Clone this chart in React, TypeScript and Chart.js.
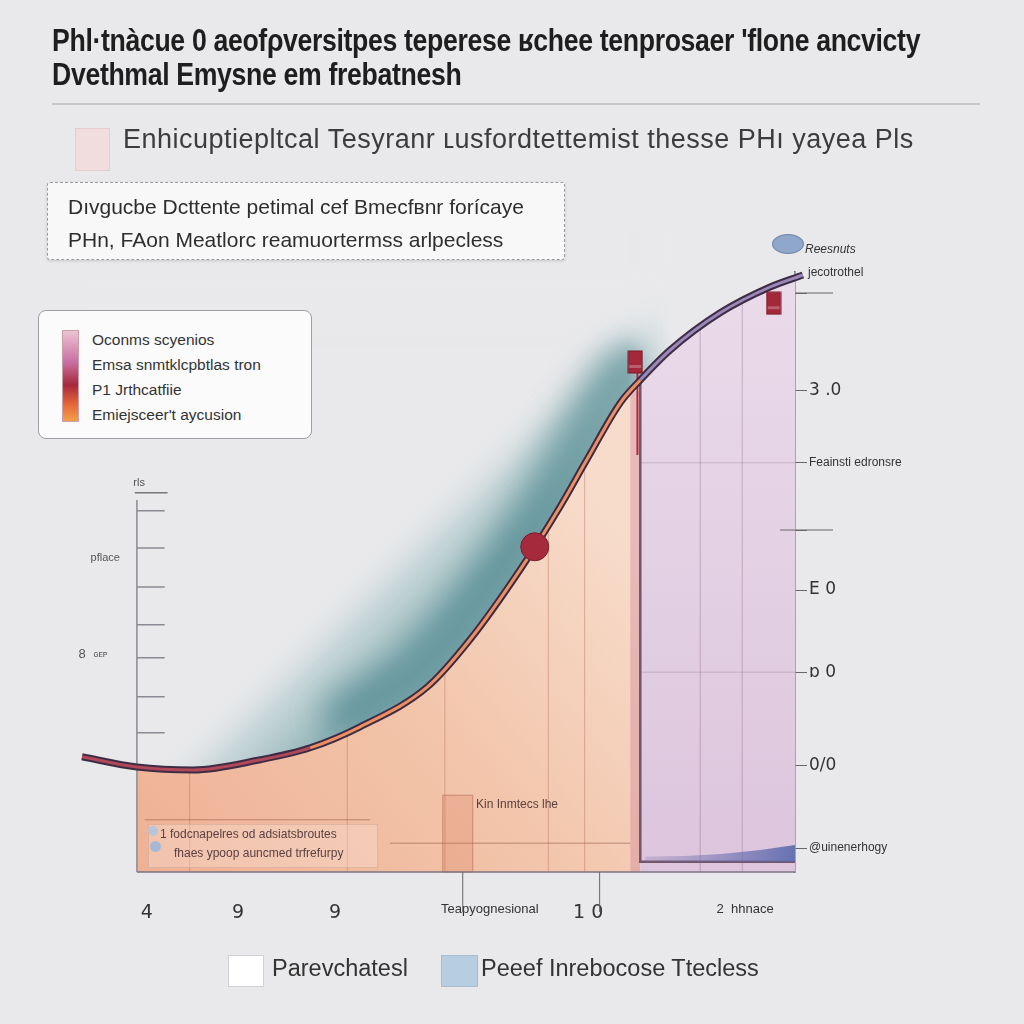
import React, { useEffect, useRef } from "react";
import { Chart, registerables } from "chart.js";
Chart.register(...registerables);

// ---- data ----
const curveX = [0, 7.7, 15.6, 25, 32, 39, 48.4, 54.4, 61.4, 67, 70.8, 75.5, 78.3, 82.5, 89.5, 96.5, 101.1];
const curveY = [19.2, 17.5, 17, 18.7, 20.7, 24.2, 30.8, 38.7, 50.3, 60.8, 68.7, 78.2, 82, 87, 93.2, 97.5, 99.5];
const peachStart = 1;
const phaseIndex = 12;
const circleMarkers = [{ x: 63.5, y: 54.2 }];
const rectMarkers = [{ x: 77.6, y: 85 }, { x: 97, y: 94.8 }];
const rightTickValues = [96.5, 80.3, 68.2, 57, 47, 33.3, 17.8, 4];
const rightTickLabels = ["", "3 .0", "Feainsti edronsre", "", "E 0", "ɒ 0", "0/0", "@uinenerhogy"];
const bottomTickValues = [9.1, 21.9, 35.5, 57.2, 71, 93];
const bottomTickLabels = ["4", "9", "9", "Teapyognesional", "1 0", "2  hhnace"];
const leftTickValues = [60.2, 54, 47.5, 41.2, 35.7, 29.2, 23.2];
const dividerX = [15.1, 37.2, 50.9, 65.4, 70.5, 86.7, 92.6];
const longTickX = [53.4, 72.6];

function curveAt(v: number) {
  for (let i = 0; i < curveX.length - 1; i++) {
    if (v >= curveX[i] && v <= curveX[i + 1]) {
      const t = (v - curveX[i]) / (curveX[i + 1] - curveX[i]);
      return curveY[i] + t * (curveY[i + 1] - curveY[i]);
    }
  }
  return curveY[curveY.length - 1];
}

const pts = (a: number, b: number) => curveX.slice(a, b + 1).map((x, i) => ({ x, y: curveY[a + i] }));

export default function App() {
  const ref = useRef<HTMLCanvasElement | null>(null);
  useEffect(() => {
    const canvas = ref.current!;
    const rectImg = document.createElement("canvas");
    rectImg.width = 16;
    rectImg.height = 24;
    const rc = rectImg.getContext("2d")!;
    rc.fillStyle = "#a3283a";
    rc.fillRect(1, 1, 14, 22);
    rc.fillStyle = "rgba(255,255,255,0.25)";
    rc.fillRect(2, 15, 12, 3);
    rc.strokeStyle = "#7a1828";
    rc.strokeRect(1, 1, 14, 22);

    const decor = {
      id: "decor",
      afterDatasetDraw(chart: any, args: any) {
        const { ctx, scales, chartArea } = chart;
        const x = scales.x, y = scales.y;
        const X = (v: number) => x.getPixelForValue(v);
        const Y = (v: number) => y.getPixelForValue(v);
        if (args.index === 6) {
          // darker teal glow hugging the curve (covered below by the fills)
          ctx.save();
          ctx.filter = "blur(16px)";
          ctx.strokeStyle = "rgba(70,130,136,0.6)";
          ctx.lineWidth = 50;
          ctx.lineCap = "round";
          ctx.beginPath();
          for (let i = 5; i <= 12; i++) {
            const px = X(curveX[i]) - 12, py = Y(curveY[i]) - 12;
            if (i === 5) ctx.moveTo(px, py); else ctx.lineTo(px, py);
          }
          ctx.stroke();
          ctx.restore();
          // fade the haze out towards the right and the top (inside the plot only)
          ctx.save();
          const fx0 = X(76.5), fx1 = X(83);
          const fg = ctx.createLinearGradient(fx0, 0, fx1, 0);
          fg.addColorStop(0, "rgba(233,233,235,0)");
          fg.addColorStop(1, "rgba(233,233,235,1)");
          ctx.fillStyle = fg;
          ctx.fillRect(fx0, chartArea.top - 40, chartArea.right - 1 - fx0, Y(55) - chartArea.top + 40);
          const tg = ctx.createLinearGradient(0, chartArea.top, 0, chartArea.top + 75);
          tg.addColorStop(0, "rgba(233,233,235,1)");
          tg.addColorStop(1, "rgba(233,233,235,0)");
          ctx.fillStyle = tg;
          ctx.fillRect(chartArea.left, chartArea.top - 2, chartArea.right - 1 - chartArea.left, 77);
          ctx.restore();
          return;
        }
        if (args.index !== 4) return;
        ctx.save();
        // pink strip at phase boundary
        ctx.fillStyle = "rgba(200,120,150,0.35)";
        ctx.fillRect(X(76.9), Y(curveAt(76.9)), X(78.3) - X(76.9), Y(0) - Y(curveAt(76.9)));
        // dividers
        ctx.lineWidth = 1;
        dividerX.forEach((v) => {
          ctx.strokeStyle = v < 78 ? "rgba(185,110,90,0.45)" : "rgba(140,100,130,0.4)";
          ctx.beginPath();
          ctx.moveTo(X(v), Y(0));
          ctx.lineTo(X(v), Y(curveAt(v)));
          ctx.stroke();
        });
        // inner horizontal rules
        ctx.strokeStyle = "rgba(150,90,75,0.6)";
        ctx.beginPath();
        ctx.moveTo(X(8.8), Y(8.7)); ctx.lineTo(X(40.4), Y(8.7));
        ctx.moveTo(X(43.2), Y(4.8)); ctx.lineTo(X(76.9), Y(4.8));
        ctx.stroke();
        // darker small box
        ctx.fillStyle = "rgba(215,120,90,0.25)";
        ctx.fillRect(X(50.6), Y(12.8), X(54.8) - X(50.6), Y(0) - Y(12.8));
        ctx.strokeStyle = "rgba(170,90,70,0.5)";
        ctx.strokeRect(X(50.6), Y(12.8), X(54.8) - X(50.6), Y(0) - Y(12.8));
        // faint horizontals in purple region
        ctx.strokeStyle = "rgba(140,100,130,0.3)";
        ctx.beginPath();
        ctx.moveTo(X(78.3), Y(68.2)); ctx.lineTo(X(100), Y(68.2));
        ctx.moveTo(X(78.3), Y(33.3)); ctx.lineTo(X(100), Y(33.3));
        ctx.stroke();
        // phase boundary dark line + bottom band
        ctx.strokeStyle = "#735468";
        ctx.lineWidth = 2.5;
        ctx.beginPath();
        ctx.moveTo(X(78.3), Y(curveAt(78.3)));
        ctx.lineTo(X(78.3), Y(1.7));
        ctx.lineTo(X(100), Y(1.7));
        ctx.stroke();
        const g = ctx.createLinearGradient(X(78.3), 0, X(100), 0);
        g.addColorStop(0, "rgba(120,110,170,0.2)");
        g.addColorStop(1, "rgba(90,105,175,0.9)");
        ctx.fillStyle = g;
        ctx.beginPath();
        ctx.moveTo(X(79), Y(1.7));
        ctx.lineTo(X(100), Y(1.7));
        ctx.lineTo(X(100), Y(4.5));
        ctx.quadraticCurveTo(X(90), Y(2.5), X(79), Y(2.6));
        ctx.closePath();
        ctx.fill();
        // red thin line below rect marker
        ctx.strokeStyle = "#b02a3e";
        ctx.lineWidth = 2;
        ctx.beginPath();
        ctx.moveTo(X(77.9), Y(85)); ctx.lineTo(X(77.9), Y(69.5));
        ctx.stroke();
        // plot box: bottom line
        ctx.strokeStyle = "#7d7380";
        ctx.lineWidth = 1.5;
        ctx.beginPath();
        ctx.moveTo(X(7.7), Y(0)); ctx.lineTo(X(100), Y(0));
        ctx.stroke();
        // left axis
        ctx.strokeStyle = "#8a8a95";
        ctx.beginPath();
        ctx.moveTo(X(7.7), Y(0)); ctx.lineTo(X(7.7), Y(62));
        leftTickValues.forEach((v) => { ctx.moveTo(X(7.7), Y(v)); ctx.lineTo(X(11.6), Y(v)); });
        ctx.stroke();
        ctx.strokeStyle = "#777";
        ctx.beginPath();
        ctx.moveTo(X(7.4), Y(63.2)); ctx.lineTo(X(12.0), Y(63.2));
        ctx.stroke();
        ctx.fillStyle = "#555";
        ctx.font = "11px 'Liberation Sans'";
        ctx.textBaseline = "middle";
        ctx.fillText("rls", X(7.2), Y(63.3) - 9);
        ctx.fillText("pflace", X(1.2), Y(52.3));
        ctx.font = "13px 'Liberation Sans'";
        ctx.fillText("8", X(-0.5), Y(36.2));
        ctx.font = "9px 'Liberation Sans'";
        ctx.fillText("ɢᴇᴘ", X(1.6), Y(36.2));
        // long bottom ticks
        ctx.strokeStyle = "#666";
        ctx.lineWidth = 1;
        ctx.beginPath();
        longTickX.forEach((v) => { ctx.moveTo(X(v), Y(0)); ctx.lineTo(X(v), Y(0) + 40); });
        // right extra rules
        ctx.moveTo(X(100), Y(96.5)); ctx.lineTo(X(100) + 38, Y(96.5));
        ctx.moveTo(X(97.9), Y(57)); ctx.lineTo(X(100) + 38, Y(57));
        ctx.stroke();
        ctx.restore();
      },
    };

    const chart = new Chart(canvas, {
      type: "line",
      data: {
        datasets: [
          {
            data: pts(0, curveX.length - 1),
            borderColor: "#3e2c45",
            borderWidth: 7,
            pointRadius: 0,
            cubicInterpolationMode: "monotone",
            clip: false,
            order: 2,
          } as any,
          {
            data: pts(0, curveX.length - 1),
            borderWidth: 3,
            pointRadius: 0,
            cubicInterpolationMode: "monotone",
            clip: false,
            order: 1,
            segment: {
              borderColor: (c: any) =>
                c.p0.parsed.x < 30 ? "#b0485a" : c.p0.parsed.x < 78 ? "#ec8f62" : "#9a88b8",
            },
          } as any,
          {
            type: "scatter",
            data: circleMarkers,
            pointRadius: 14,
            backgroundColor: "#a52a3c",
            borderColor: "#7c1c2c",
            borderWidth: 1,
            order: 0,
          } as any,
          {
            type: "scatter",
            data: rectMarkers,
            pointStyle: rectImg,
            order: 0,
            clip: false,
          } as any,
          {
            data: pts(peachStart, phaseIndex),
            borderWidth: 0,
            pointRadius: 0,
            cubicInterpolationMode: "monotone",
            fill: "origin",
            order: 5,
            backgroundColor: (c: any) => {
              const a = c.chart.chartArea;
              if (!a) return "#f3c9b2";
              const g = c.chart.ctx.createLinearGradient(a.left, a.bottom, a.left + 500, a.bottom - 400);
              g.addColorStop(0, "#eeae92");
              g.addColorStop(0.55, "#f2c4a9");
              g.addColorStop(1, "#f7dccb");
              return g;
            },
          } as any,
          {
            data: pts(phaseIndex, curveX.length - 1),
            borderWidth: 0,
            pointRadius: 0,
            cubicInterpolationMode: "monotone",
            fill: "origin",
            order: 6,
            backgroundColor: (c: any) => {
              const a = c.chart.chartArea;
              if (!a) return "#e4cce0";
              const g = c.chart.ctx.createLinearGradient(0, a.top, 0, a.bottom);
              g.addColorStop(0, "#eadbea");
              g.addColorStop(1, "#dcc5dd");
              return g;
            },
          } as any,
          {
            // teal haze above the curve
            data: pts(0, curveX.length - 1),
            borderWidth: 0,
            pointRadius: 0,
            cubicInterpolationMode: "monotone",
            fill: "end",
            order: 7,
            backgroundColor: (c: any) => {
              const a = c.chart.chartArea;
              if (!a) return "rgba(120,165,170,0.4)";
              const sx = c.chart.scales.x, sy = c.chart.scales.y;
              const cx = sx.getPixelForValue(53.9), cy = sy.getPixelForValue(61.5);
              const g = c.chart.ctx.createLinearGradient(cx - 50, cy - 50, cx + 45, cy + 45);
              g.addColorStop(0, "rgba(233,233,235,0)");
              g.addColorStop(0.25, "rgba(233,233,235,0)");
              g.addColorStop(0.6, "rgba(165,195,198,0.5)");
              g.addColorStop(1, "rgba(120,165,170,0.75)");
              return g;
            },
          } as any,
        ],
      },
      options: {
        responsive: false,
        animation: false,
        layout: { padding: { left: 82, top: 272, right: 89, bottom: 92 } },
        plugins: { legend: { display: false }, tooltip: { enabled: false } },
        scales: {
          x: {
            type: "linear",
            min: 0,
            max: 100,
            afterFit: (s: any) => { s.height = 60; },
            afterBuildTicks: (s: any) => { s.ticks = bottomTickValues.map((v) => ({ value: v })); },
            grid: { display: false, drawTicks: false },
            border: { display: false },
            ticks: {
              autoSkip: false,
              maxRotation: 0,
              padding: 30,
              color: "#333",
              callback: (_v: any, i: number) => bottomTickLabels[i],
              font: (c: any) => {
                const l = String(c.tick && c.tick.label || "");
                return l.length > 4 ? { size: 13, family: "'Liberation Sans'" } : { size: 19, family: "'DejaVu Sans'" };
              },
            },
          },
          y: {
            position: "right",
            min: 0,
            max: 100,
            afterFit: (s: any) => { s.width = 140; },
            afterBuildTicks: (s: any) => { s.ticks = rightTickValues.map((v) => ({ value: v })); },
            grid: { drawOnChartArea: false, tickLength: 12, color: "#666" },
            border: { color: "#6d5d75", width: 1.5 },
            ticks: {
              autoSkip: false,
              padding: 2,
              color: "#333",
              callback: (_v: any, i: number) => rightTickLabels[i],
              font: (c: any) => {
                const l = String(c.tick && c.tick.label || "");
                return l.length > 4 ? { size: 12, family: "'Liberation Sans'" } : { size: 17, family: "'DejaVu Sans'" };
              },
            },
          },
        },
      },
      plugins: [decor],
    } as any);
    return () => chart.destroy();
  }, []);

  const sans = "'Liberation Sans', Arial, sans-serif";
  const abs = (s: any) => ({ position: "absolute" as const, whiteSpace: "nowrap" as const, ...s });

  return (
    <div style={{ position: "fixed", left: 0, top: 0, width: 1024, height: 1024, background: "#e9e9eb", overflow: "hidden", fontFamily: sans }}>
      <canvas ref={ref} width={1024} height={1024} style={{ position: "absolute", left: 0, top: 0, display: "block" }} />
      {/* title */}
      <div style={abs({ left: 52, top: 24, fontFamily: sans, fontWeight: 700, fontSize: 31, lineHeight: "34px", color: "#1e1e1e", transform: "scaleX(0.86)", transformOrigin: "left top", letterSpacing: -0.4 })}>
        <div>Phl·tnàcue 0 aeofρversitpes teperese ʁchee tenprosaer 'flone ancvicty</div>
        <div>Dvethmal Emysne em frebatnesh</div>
      </div>
      <div style={abs({ left: 52, top: 103, width: 928, height: 2, background: "#c6c6cc" })} />
      {/* top legend */}
      <div style={abs({ left: 75, top: 128, width: 33, height: 41, background: "#f1dddd", border: "1px solid #e6cccc" })} />
      <div style={abs({ left: 123, top: 124, fontSize: 27, color: "#3c3c3c", letterSpacing: 0.5 })}>
        Enhicuptiepltcal Tesyranr ʟusfordtettemist thesse  PHı yayea Pls
      </div>
      {/* description box */}
      <div style={abs({ left: 47, top: 182, width: 516, height: 76, background: "#f8f8f9", border: "1px dashed #9a9aa0", borderRadius: 3, boxShadow: "0 1px 3px rgba(0,0,0,0.15)" })} />
      <div style={abs({ left: 68, top: 190, fontSize: 21, lineHeight: "33px", color: "#2e2e2e" })}>
        <div>Dıvgucbe Dcttente petimal cef Bmeсfвnr forícaye</div>
        <div>PHn, FAon Meatlorc reamuortermss arlpecless</div>
      </div>
      {/* gradient legend box */}
      <div style={abs({ left: 38, top: 310, width: 272, height: 127, background: "#fbfbfc", border: "1.5px solid #9d9da3", borderRadius: 8 })} />
      <div style={abs({ left: 62, top: 330, width: 15, height: 90, border: "1px solid #c9a0a8", background: "linear-gradient(#eec3d3, #c86ea0 35%, #a8283c 60%, #e6683a 82%, #f3a04a)" })} />
      <div style={abs({ left: 92, top: 327, fontSize: 15.5, lineHeight: "25px", color: "#333" })}>
        <div>Oconms scyenios</div>
        <div>Emsa snmtklcpbtlas tron</div>
        <div>P1 Jrthcatfiie</div>
        <div>Emiejsceer't aycusion</div>
      </div>
      {/* right annotations */}
      <div style={abs({ left: 772, top: 234, width: 30, height: 18, borderRadius: "50%", background: "#8fa7ca", border: "1px solid #6f86ad" })} />
      <div style={abs({ left: 805, top: 242, fontSize: 12, fontStyle: "italic", color: "#333" })}>Reesnuts</div>
      <div style={abs({ left: 808, top: 265, fontSize: 12, color: "#333" })}>jecotrothel</div>
      {/* in-plot notes */}
      <div style={abs({ left: 476, top: 797, fontSize: 12, color: "#5a4040" })}>Kin Inmtecs lhe</div>
      <div style={abs({ left: 148, top: 824, width: 228, height: 42, background: "rgba(250,230,220,0.35)", border: "1px solid rgba(190,140,120,0.35)" })} />
      <div style={abs({ left: 148, top: 826, width: 10, height: 10, borderRadius: "50%", background: "#b8c4d8" })} />
      <div style={abs({ left: 150, top: 841, width: 11, height: 11, borderRadius: "50%", background: "#a8b8d4" })} />
      <div style={abs({ left: 160, top: 825, fontSize: 12, lineHeight: "19px", color: "#5a4040" })}>
        <div>1 fodcnapelres od adsiatsbroutes</div>
        <div style={{ paddingLeft: 14 }}>fhaes ypoop auncmed trfrefurpy</div>
      </div>
      {/* bottom legend */}
      <div style={abs({ left: 228, top: 955, width: 34, height: 30, background: "#ffffff", border: "1px solid #d0d0d4" })} />
      <div style={abs({ left: 272, top: 955, fontSize: 23.5, color: "#333" })}>Parevchatesl</div>
      <div style={abs({ left: 441, top: 955, width: 35, height: 30, background: "#b7cde0", border: "1px solid #a8bdd0" })} />
      <div style={abs({ left: 481, top: 955, fontSize: 23.5, color: "#333" })}>Peeef Inrebocose Ttecless</div>
    </div>
  );
}
